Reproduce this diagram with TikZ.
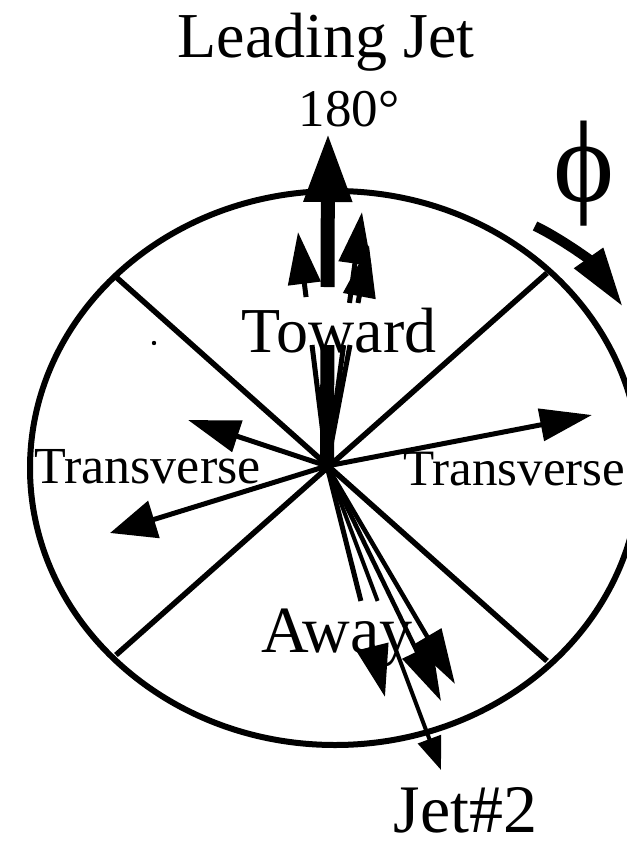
\documentclass[tikz,border=0pt]{standalone}
\usepackage{fontspec}
\setmainfont{Liberation Serif}
\usetikzlibrary{arrows.meta,calc}
\begin{document}
\begin{tikzpicture}[x=1pt,y=-1pt,
  ell/.style={line width=6pt},
  spoke/.style={line width=5.5pt},
  shaft/.style={line width=5pt},
  bigshaft/.style={line width=14pt},
  jet/.style={line width=5pt,-{Triangle[length=52pt,width=32pt]}},
  bigjet/.style={line width=14pt,-{Triangle[length=69pt,width=45pt]}},
  thinjet/.style={line width=4pt,-{Triangle[length=33pt,width=24pt]}},
  lbl/.style={inner sep=0pt,anchor=base}]
\useasboundingbox (0,0) rectangle (626,842);

% ellipse and spokes
\draw[ell] (335,468) ellipse [x radius=305pt, y radius=277pt];
\coordinate (c) at (327,466);
\coordinate (ul) at (116,277);
\coordinate (ur) at (547,273);
\coordinate (ll) at (116,655);
\coordinate (lr) at (547,661);
\draw[spoke] (ul) -- (lr);
\draw[spoke] (ur) -- (ll);

% toward jets (shafts interrupted under the label)
\coordinate (lj) at (328,133);
\coordinate (tl) at (298,232);
\coordinate (tr1) at (362,212);
\coordinate (tr2) at (369,245);
\draw[bigshaft] (c) -- ($(c)!0.363!(lj)$);
\draw[bigjet] ($(c)!0.5375!(lj)$) -- (lj);
\draw[shaft] (c) -- ($(c)!0.517!(tl)$);
\draw[jet] ($(c)!0.722!(tl)$) -- (tl);
\draw[shaft] (c) -- ($(c)!0.476!(tr1)$);
\draw[jet] ($(c)!0.642!(tr1)$) -- (tr1);
\draw[shaft] (c) -- ($(c)!0.5475!(tr2)$);
\draw[jet] ($(c)!0.7376!(tr2)$) -- (tr2);

% transverse jets
\coordinate (tul) at (188,420);
\coordinate (tll) at (110,533);
\coordinate (tri) at (592,415);
\draw[jet] (c) -- (tul);
\draw[line width=5pt,-{Triangle[length=46pt,width=38pt]}] (c) -- (tll);
\draw[jet] (c) -- (tri);

% away jets
\coordinate (aa) at (385,697);
\coordinate (ac) at (441,701);
\coordinate (ad) at (455,684);
\coordinate (j2) at (441,770);
\draw[shaft] (c) -- ($(c)!0.584!(aa)$);
\draw[jet] ($(c)!0.775!(aa)$) -- (aa);
\draw[line width=4pt] (c) -- ($(c)!0.444!(j2)$);
\draw[thinjet] ($(c)!0.605!(j2)$) -- (j2);
\draw[line width=4.5pt,-{Triangle[length=55pt,width=32pt]}] (c) -- (ac);
\draw[line width=4.5pt,-{Triangle[length=55pt,width=32pt]}] (c) -- (ad);

% phi direction arrow
\coordinate (phis) at (535,226);
\coordinate (phie) at (623,307);
\draw[line width=10pt,-{Triangle[length=60pt,width=33pt]}]
  (phis) .. controls (560,238) and (590,260) .. (phie);

% stray dot
\fill (154,343) circle (2.2pt);

% labels
\node[lbl,font=\fontsize{64}{64}\selectfont] (lead) at (326,58) {Leading Jet};
\node[lbl,font=\fontsize{53}{53}\selectfont] (deg) at (349,127) {180°};
\node[lbl,font=\fontsize{64}{64}\selectfont] (tow) at (339,352) {Toward};
\node[lbl,font=\fontsize{52}{52}\selectfont] (trl) at (147.5,483) {Transverse};
\node[lbl,font=\fontsize{51}{51}\selectfont,anchor=base east] (trr) at (625.5,485) {Transverse};
\node[lbl,font=\fontsize{66}{66}\selectfont] (away) at (337,652) {Away};
\node[lbl,font=\fontsize{68}{68}\selectfont] (jet2) at (465.5,832) {Jet\#2};
\node[lbl,font=\fontsize{116}{116}\selectfont] (phi) at (584,202) {ϕ};
\end{tikzpicture}
\end{document}
